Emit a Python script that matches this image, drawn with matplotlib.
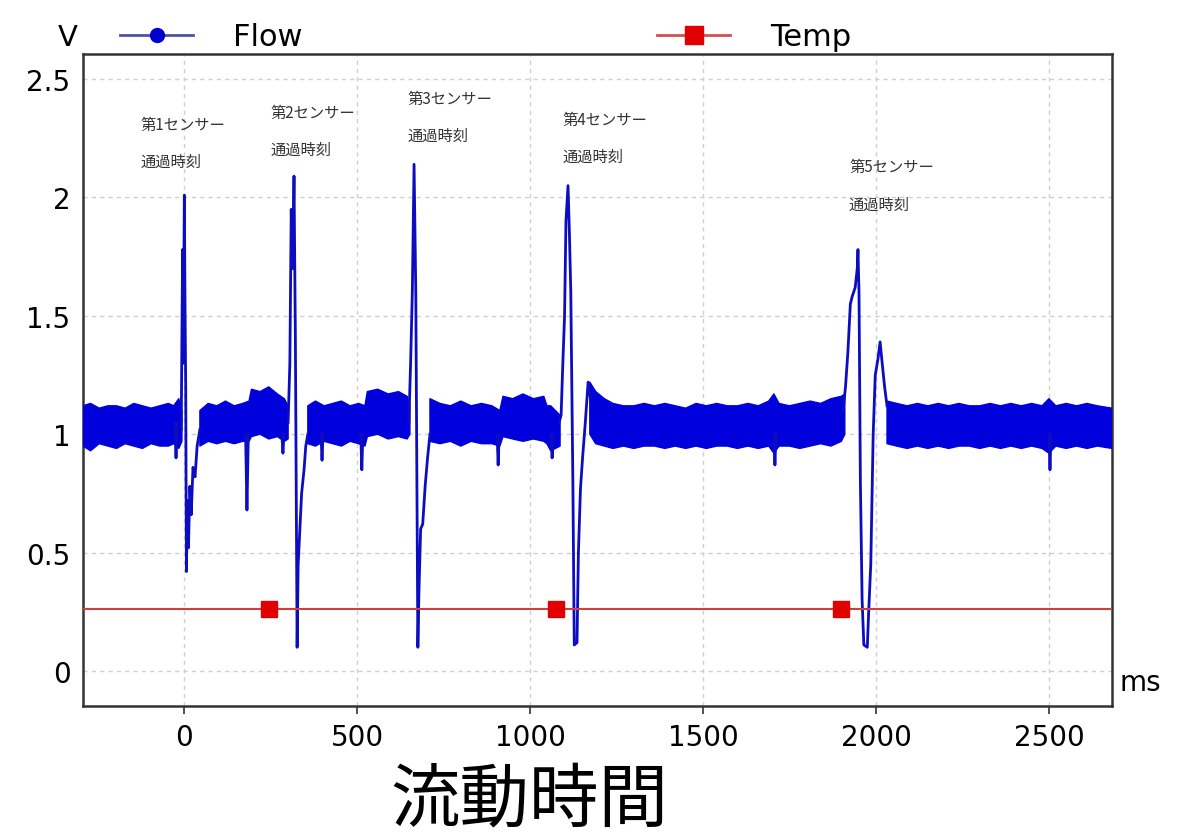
import numpy as np
import matplotlib
matplotlib.use('Agg')
import matplotlib.pyplot as plt
from matplotlib.lines import Line2D

nan = np.nan

# noise band of the Flow signal (upper / lower envelope), NaN = gap at a spike
band_x = [-292, -270, -245, -220, -195, -170, -145, -120, -95, -70, -45, -30, -15, -6, nan,
          46, 70, 95, 120, 145, 170, 188, 195, 220, 245, 270, 290, 301, nan,
          358, 380, 405, 430, 455, 480, 505, 523, 530, 560, 590, 620, 645, 653, nan,
          711, 740, 770, 800, 830, 860, 890, 913, 922, 950, 980, 1010, 1040, 1049, 1060, 1087, nan,
          1173, 1190, 1215, 1240, 1270, 1300, 1330, 1360, 1390, 1420, 1450, 1480, 1510, 1540,
          1570, 1600, 1630, 1660, 1690, 1705, 1720, 1750, 1780, 1810, 1840, 1870, 1900, 1910, nan,
          2032, 2060, 2090, 2120, 2150, 2180, 2210, 2240, 2270, 2300, 2330, 2360, 2390, 2420,
          2450, 2480, 2500, 2520, 2550, 2580, 2610, 2640, 2682]
band_hi = [1.12, 1.13, 1.11, 1.12, 1.12, 1.11, 1.13, 1.12, 1.11, 1.12, 1.13, 1.12, 1.15, 1.10, nan,
           1.10, 1.13, 1.12, 1.14, 1.12, 1.13, 1.14, 1.19, 1.18, 1.20, 1.17, 1.15, 1.12, nan,
           1.12, 1.14, 1.12, 1.13, 1.14, 1.12, 1.13, 1.12, 1.18, 1.19, 1.17, 1.18, 1.16, 1.12, nan,
           1.15, 1.13, 1.12, 1.14, 1.12, 1.13, 1.12, 1.10, 1.16, 1.15, 1.17, 1.15, 1.16, 1.12, 1.12, 1.08, nan,
           1.22, 1.18, 1.15, 1.13, 1.12, 1.12, 1.13, 1.12, 1.13, 1.12, 1.11, 1.13, 1.12, 1.13,
           1.12, 1.12, 1.13, 1.12, 1.14, 1.17, 1.13, 1.12, 1.13, 1.14, 1.13, 1.15, 1.16, 1.17, nan,
           1.14, 1.13, 1.12, 1.13, 1.12, 1.13, 1.12, 1.13, 1.12, 1.12, 1.13, 1.12, 1.13, 1.12,
           1.13, 1.12, 1.15, 1.12, 1.13, 1.12, 1.13, 1.12, 1.11]
band_lo = [0.95, 0.93, 0.96, 0.95, 0.94, 0.96, 0.95, 0.94, 0.96, 0.95, 0.95, 0.96, 0.94, 0.97, nan,
           0.95, 0.97, 0.96, 0.97, 0.96, 0.97, 0.97, 0.99, 1.00, 0.98, 0.99, 0.97, 0.98, nan,
           0.96, 0.95, 0.97, 0.96, 0.95, 0.97, 0.96, 0.95, 0.99, 1.00, 0.98, 0.99, 0.98, 1.00, nan,
           0.97, 0.96, 0.97, 0.95, 0.97, 0.96, 0.96, 0.95, 0.99, 0.98, 0.97, 0.98, 0.97, 0.96, 0.93, 0.95, nan,
           1.00, 0.96, 0.95, 0.94, 0.95, 0.94, 0.95, 0.95, 0.94, 0.95, 0.94, 0.95, 0.94, 0.95,
           0.95, 0.94, 0.95, 0.94, 0.95, 0.92, 0.95, 0.95, 0.94, 0.95, 0.96, 0.95, 0.97, 1.00, nan,
           0.96, 0.95, 0.94, 0.95, 0.94, 0.95, 0.94, 0.95, 0.95, 0.94, 0.95, 0.94, 0.95, 0.94,
           0.95, 0.94, 0.92, 0.95, 0.94, 0.95, 0.94, 0.95, 0.94]

# spikes and dips of the Flow signal
flow_x = [-26, -23, -20, nan,
          -8, -4, -2, 1, 3, 5, 7, 10, 13, 17, 21, 26, 32, 38, 46, nan,
          178, 182, 186, nan, 283, 286, 289, nan,
          301, 306, 310, 314, 318, 322, 327, 330, 335, 340, 347, 352, 358, nan,
          396, 399, 402, nan, 511, 514, 517, nan,
          650, 655, 660, 665, 670, 676, 679, 684, 690, 697, 704, 711, nan,
          905, 908, 911, nan, 1061, 1064, 1067, nan,
          1084, 1090, 1095, 1100, 1104, 1110, 1114, 1118, 1124, 1128, 1136, 1140, 1146, 1152, 1160, 1168, 1175, nan,
          1705, 1708, 1711, nan,
          1905, 1912, 1919, 1926, 1931, 1940, 1946, 1948, 1951, 1955, 1960, 1965, 1975, 1979, 1985,
          1992, 1998, 2006, 2012, 2018, 2025, 2032, nan,
          2500, 2503, 2506]
flow_v = [1.05, 0.90, 1.05, nan,
          1.02, 1.78, 1.30, 2.01, 1.55, 1.20, 0.42, 0.72, 0.52, 0.78, 0.66, 0.86, 0.82, 0.95, 1.02, nan,
          1.00, 0.68, 1.00, nan, 1.00, 0.92, 1.00, nan,
          1.05, 1.30, 1.95, 1.70, 2.09, 1.40, 0.10, 0.45, 0.60, 0.75, 0.85, 0.95, 1.00, nan,
          1.00, 0.89, 1.00, nan, 1.00, 0.85, 1.00, nan,
          1.05, 1.30, 1.60, 2.14, 1.60, 0.10, 0.33, 0.60, 0.62, 0.78, 0.90, 1.00, nan,
          1.00, 0.87, 1.00, nan, 1.00, 0.90, 1.00, nan,
          1.05, 1.08, 1.30, 1.50, 1.90, 2.05, 1.85, 1.60, 0.80, 0.11, 0.12, 0.50, 0.77, 0.90, 1.05, 1.22, 1.15, nan,
          1.00, 0.87, 1.00, nan,
          1.10, 1.20, 1.35, 1.55, 1.58, 1.62, 1.70, 1.78, 1.60, 0.80, 0.30, 0.11, 0.10, 0.25, 0.45,
          1.00, 1.25, 1.32, 1.39, 1.30, 1.20, 1.12, nan,
          1.00, 0.85, 1.00]

# Temp trace (flat) with its three markers
temp_x = [-292, 246, 1075, 1899, 2682]
temp_v = [0.26, 0.26, 0.26, 0.26, 0.26]

# sensor labels
sensor_labels = ['第1センサー', '第2センサー', '第3センサー', '第4センサー', '第5センサー']
sensor_x = [-127, 249, 645, 1095, 1922]
sensor_y = [2.31, 2.36, 2.42, 2.33, 2.13]

xticks = [0, 500, 1000, 1500, 2000, 2500]
yticks = [0, 0.5, 1, 1.5, 2, 2.5]
ytick_labels = ['0', '0.5', '1', '1.5', '2', '2.5']

plt.rcParams['font.family'] = ['DejaVu Sans', 'Noto Sans CJK JP']
jp = ['Noto Sans CJK JP', 'DejaVu Sans']

fig = plt.figure(figsize=(11.8, 8.37), dpi=100)
ax = fig.add_axes([0.0703, 0.1553, 0.8720, 0.7790])

ax.fill_between(band_x, band_lo, band_hi, color='#0000dd', lw=1.0, edgecolor='#0000dd', zorder=3)
ax.plot(flow_x, flow_v, color='#0c0cc0', lw=2.0, zorder=4)
ax.plot(temp_x, temp_v, color='#cc4040', lw=1.5, marker='s', markevery=[1, 2, 3],
        markersize=12, markerfacecolor='#e00000', markeredgecolor='#e00000', zorder=5)

for lab, sx, sy in zip(sensor_labels, sensor_x, sensor_y):
    ax.text(sx, sy, lab, family=jp, fontsize=11, color='#333333', va='center', ha='left')
    ax.text(sx, sy - 0.158, '通過時刻', family=jp, fontsize=11, color='#333333', va='center', ha='left')

ax.set_xlim(-292, 2682)
ax.set_ylim(-0.148, 2.606)
ax.set_xticks(xticks)
ax.set_yticks(yticks)
ax.set_yticklabels(ytick_labels)
ax.tick_params(axis='x', length=6, width=1.2, pad=6, labelsize=20, color='#333333')
ax.tick_params(axis='y', length=0, pad=9, labelsize=20)
ax.grid(True, color='#cfcfcf', linestyle=(0, (3, 3)), lw=1)
ax.set_axisbelow(True)
for s in ax.spines.values():
    s.set_linewidth(1.8)
    s.set_color('#333333')

ax.text(1.007, 0.037, 'ms', transform=ax.transAxes, fontsize=20, va='center', ha='left')
fig.text(68 / 1180, 1 - 38 / 837, 'V', fontsize=21, va='center', ha='center')

handles = [Line2D([], [], color='#5050a8', lw=2, marker='o', markersize=10,
                  markerfacecolor='#0000cc', markeredgecolor='#0000cc'),
           Line2D([], [], color='#d05050', lw=2, marker='s', markersize=13,
                  markerfacecolor='#e00000', markeredgecolor='#e00000')]
fig.legend(handles, ['Flow', 'Temp'], loc='center left', bbox_to_anchor=(120 / 1180, 1 - 38 / 837),
           ncol=2, frameon=False, fontsize=22, handlelength=2.4, handletextpad=1.3,
           columnspacing=11.6, borderaxespad=0, borderpad=0)

fig.text(529 / 1180, 1 - 801 / 837, '流動時間', family=jp, fontsize=50, va='center', ha='center')

fig.savefig('out.png', dpi=100)
